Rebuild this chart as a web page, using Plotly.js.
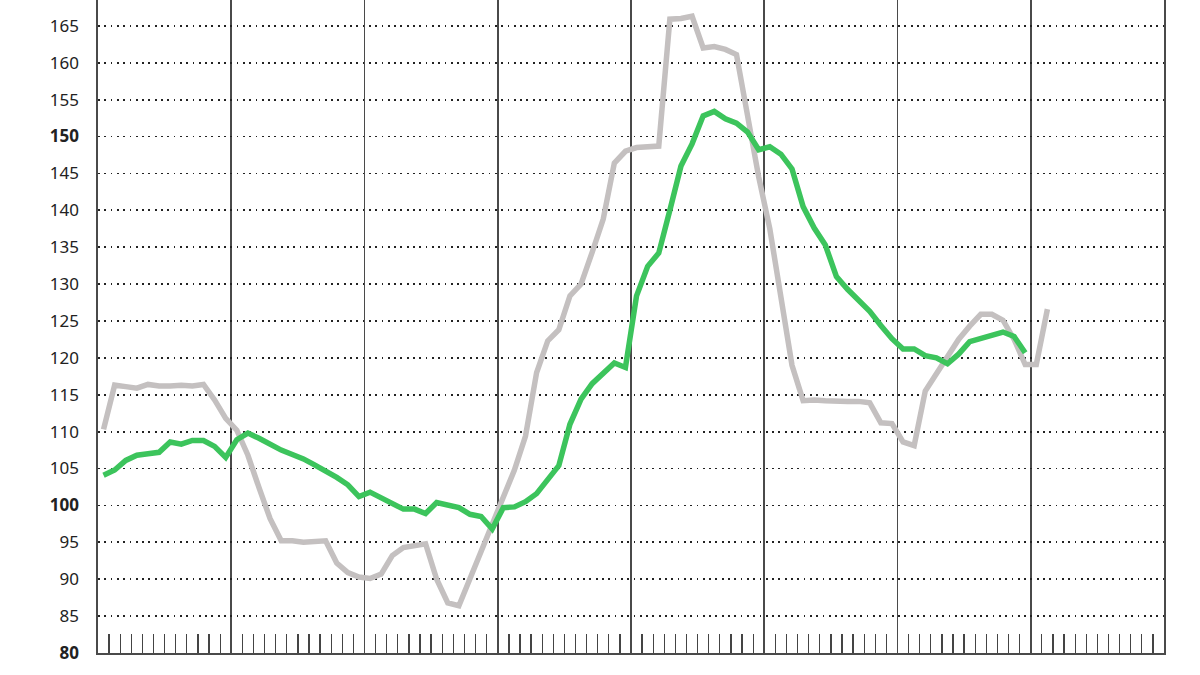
<!DOCTYPE html>
<html>
<head>
<meta charset="utf-8">
<script src="https://cdn.plot.ly/plotly-3.0.1.min.js"></script>
<style>
html,body{margin:0;padding:0;background:#fff;}
#chart{width:1200px;height:675px;}
</style>
</head>
<body>
<div id="chart"></div>
<script>
// Monthly index values (8 years x 12 months)
const grayValues = [
  110.3, 116.3, 116.1, 115.9, 116.4, 116.2, 116.2, 116.3, 116.2, 116.4, 114.3, 111.8,
  110.2, 106.8, 102.4, 98.2, 95.2, 95.2, 95.0, 95.1, 95.2, 92.2, 90.9, 90.3,
  90.1, 90.7, 93.2, 94.3, 94.6, 94.8, 90.0, 86.8, 86.4, 90.0, 94.0, 97.5,
  100.8, 104.8, 109.4, 118.0, 122.3, 123.8, 128.4, 130.0, 134.3, 138.8, 146.4, 148.0,
  148.5, 148.6, 148.7, 165.9, 166.0, 166.3, 162.0, 162.2, 161.8, 161.1, 152.5, 144.5,
  137.5, 128.0, 119.0, 114.2, 114.3, 114.2, 114.1, 114.1, 114.1, 113.9, 111.2, 111.1,
  108.6, 108.1, 115.5, 117.8, 120.2, 122.5, 124.3, 125.9, 125.9, 125.1, 122.5, 119.1,
  119.1, 126.6
];
const greenValues = [
  104.1, 104.8, 106.1, 106.8, 107.0, 107.2, 108.6, 108.3, 108.8, 108.8, 108.0, 106.5,
  108.9, 109.8, 109.1, 108.2, 107.5, 106.9, 106.3, 105.5, 104.7, 103.8, 102.8, 101.2,
  101.8, 101.0, 100.4, 99.5, 99.5, 98.9, 100.4, 100.1, 99.7, 98.8, 98.5, 96.8,
  99.7, 99.8, 100.5, 101.6, 103.6, 105.4, 111.0, 114.4, 116.5, 118.0, 119.3, 118.7,
  128.4, 132.4, 134.2, 140.0, 146.0, 149.0, 152.8, 153.4, 152.4, 151.8, 150.6, 148.2,
  148.6, 147.6, 145.6, 140.5, 137.6, 135.3, 131.0, 129.3, 127.8, 126.3, 124.4, 122.6,
  121.2, 121.2, 120.3, 120.0, 119.2, 120.5, 122.2, 122.6, 123.0, 123.5, 122.9, 120.7
];
const yTickValues = [80, 85, 90, 95, 100, 105, 110, 115, 120, 125, 130, 135, 140, 145, 150, 155, 160, 165];
const boldTicks = [80, 100, 150];
const yTickLabels = yTickValues.map(v => boldTicks.includes(v) ? '<b>' + v + '</b>' : String(v));

const monthPos = n => Array.from({length: n}, (_, i) => i + 0.5);

const traces = [
  {
    x: monthPos(grayValues.length), y: grayValues, type: 'scatter', mode: 'lines',
    line: {color: '#c4c0c0', width: 5.5, shape: 'linear'}, hoverinfo: 'skip'
  },
  {
    x: monthPos(greenValues.length), y: greenValues, type: 'scatter', mode: 'lines',
    line: {color: '#3cc45c', width: 5.5, shape: 'linear'}, hoverinfo: 'skip'
  }
];

const layout = {
  width: 1200, height: 675,
  margin: {l: 98, r: 36, t: 0, b: 22, pad: 0},
  paper_bgcolor: '#ffffff', plot_bgcolor: '#ffffff',
  showlegend: false,
  font: {family: '"Noto Sans", Lato, sans-serif', color: '#222'},
  xaxis: {
    range: [0, 96], tickmode: 'linear', tick0: 0, dtick: 12,
    showgrid: true, gridcolor: '#4a4a4a', gridwidth: 1.6,
    showticklabels: false, ticks: '', zeroline: false,
    showline: true, linecolor: '#4a4a4a', linewidth: 1.6,
    minor: {tickmode: 'linear', tick0: 0, dtick: 1, ticks: 'inside', ticklen: 19, tickwidth: 1.3, tickcolor: '#444', showgrid: false},
    fixedrange: true
  },
  yaxis: {
    range: [80, 168.5], tickmode: 'array', tickvals: yTickValues, ticktext: yTickLabels,
    showgrid: true, gridcolor: '#222', gridwidth: 1.8, griddash: '1.8px,4.5px',
    zeroline: false, ticks: '', ticklabelstandoff: 14,
    tickfont: {size: 17, color: '#222', family: '"Noto Sans", Lato, sans-serif'},
    showline: true, mirror: true, linecolor: '#4a4a4a', linewidth: 1.6,
    fixedrange: true
  }
};

Plotly.newPlot('chart', traces, layout, {displayModeBar: false, staticPlot: true});
</script>
</body>
</html>
